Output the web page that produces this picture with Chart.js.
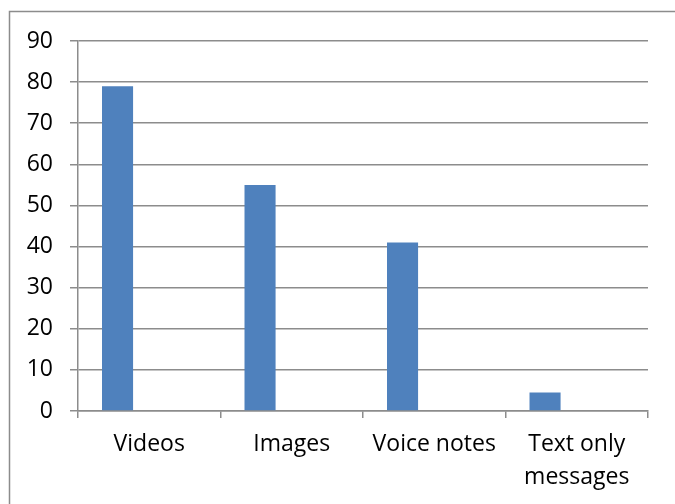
<!DOCTYPE html>
<html>
<head>
<meta charset="utf-8">
<script src="https://cdn.jsdelivr.net/npm/chart.js@4.4.1/dist/chart.umd.min.js"></script>
<style>
  html, body { margin: 0; padding: 0; background: #fff; }
  #wrap { width: 675px; height: 504px; position: relative; }
</style>
</head>
<body>
<div id="wrap"><canvas id="chart" width="675" height="504"></canvas></div>
<script>
// Chart data
const categories = ['Videos', 'Images', 'Voice notes', ['Text only', 'messages']];
const seriesValues = [79, 55, 41, 4.5];
const emptySeries = [null, null, null, null];
const yTicks = [0, 10, 20, 30, 40, 50, 60, 70, 80, 90];

const BAR_BLUE = '#4f81bd';
const AXIS_GREY = '#8c8c8c';
const FONT = "'Open Sans', 'Noto Sans', sans-serif";

// outer frame of the chart object (right/bottom edges run off the picture)
const framePlugin = {
    id: 'frame',
    beforeDraw(chart) {
        const ctx = chart.ctx;
        ctx.save();
        ctx.strokeStyle = '#8c8c8c';
        ctx.lineWidth = 1.5;
        ctx.strokeRect(9.5, 11.5, 700, 520);
        ctx.restore();
    }
};

const ctx = document.getElementById('chart');
new Chart(ctx, {
    type: 'bar',
    data: {
        labels: categories,
        datasets: [
            {
                data: seriesValues,
                backgroundColor: BAR_BLUE,
                borderWidth: 0,
                categoryPercentage: 0.89,
                barPercentage: 0.49
            },
            {
                data: emptySeries,
                backgroundColor: BAR_BLUE,
                categoryPercentage: 0.89,
                barPercentage: 0.49
            }
        ]
    },
    options: {
        responsive: false,
        animation: false,
        layout: { padding: { top: 41, right: 27, left: 0, bottom: 0 } },
        plugins: {
            legend: { display: false },
            tooltip: { enabled: false }
        },
        scales: {
            x: {
                offset: true,
                grid: {
                    offset: true,
                    drawOnChartArea: false,
                    drawTicks: true,
                    tickLength: 7,
                    color: AXIS_GREY,
                    lineWidth: 1.5
                },
                border: { color: AXIS_GREY, width: 1.5 },
                ticks: {
                    color: '#000',
                    padding: 10,
                    maxRotation: 0,
                    autoSkip: false,
                    font: { family: FONT, size: 23, lineHeight: 1.42 }
                },
                afterFit(scale) { scale.height = 93; }
            },
            y: {
                min: 0,
                max: 90,
                afterBuildTicks(scale) {
                    scale.ticks = yTicks.map(v => ({ value: v }));
                },
                grid: {
                    color: AXIS_GREY,
                    lineWidth: 1.5,
                    drawTicks: true,
                    tickLength: 8
                },
                border: { color: AXIS_GREY, width: 1.5 },
                ticks: {
                    color: '#000',
                    padding: 17,
                    font: { family: FONT, size: 23 }
                },
                afterFit(scale) { scale.width = 78; }
            }
        }
    },
    plugins: [framePlugin]
});
</script>
</body>
</html>
